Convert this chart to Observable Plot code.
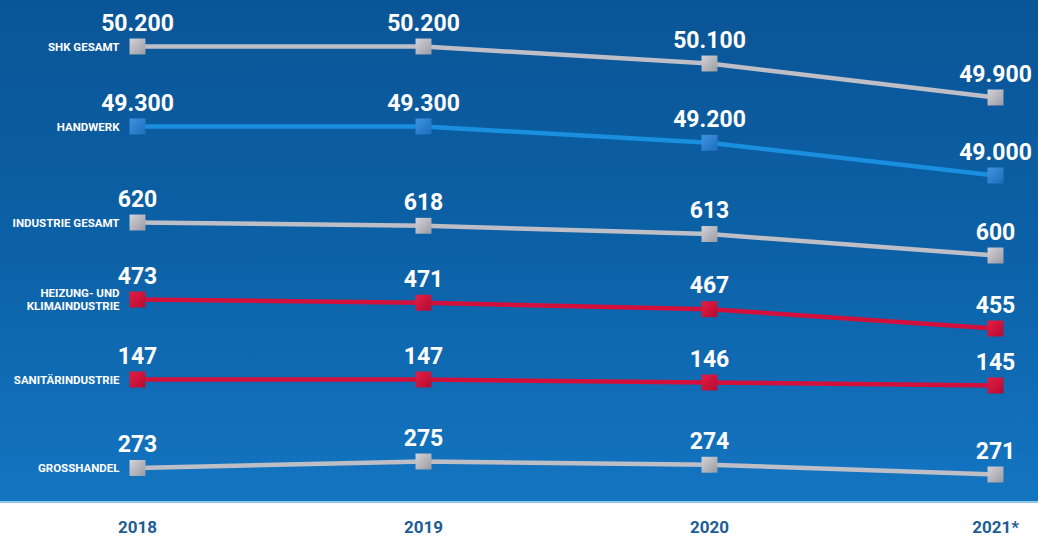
<!DOCTYPE html>
<html><head><meta charset="utf-8">
<script src="https://cdn.jsdelivr.net/npm/d3@7"></script>
<script src="https://cdn.jsdelivr.net/npm/@observablehq/plot@0.6"></script>
<style>
html,body{margin:0;padding:0;overflow:hidden;background:#fff;}
#chart{position:relative;width:1038px;height:539px;font-family:Roboto,sans-serif;}
#panel{position:absolute;left:0;top:0;width:1038px;height:503px;background:linear-gradient(to bottom,#0a5597 0%,#0c61a6 50%,#1475c1 100%);border-bottom:2px solid #8fc6ec;box-sizing:border-box}
#chart svg{position:absolute;left:0;top:0;}
</style></head><body><div id="chart"><div id="panel"></div></div>
<script>
// ---- data ----
const years = ["2018", "2019", "2020", "2021*"];
const seriesNames = ["SHK GESAMT", "HANDWERK", "INDUSTRIE GESAMT", "HEIZUNG- UND\nKLIMAINDUSTRIE", "SANITÄRINDUSTRIE", "GROSSHANDEL"];
const shkGesamt = [50200, 50200, 50100, 49900];
const handwerk = [49300, 49300, 49200, 49000];
const industrieGesamt = [620, 618, 613, 600];
const heizungKlima = [473, 471, 467, 455];
const sanitaer = [147, 147, 146, 145];
const grosshandel = [273, 275, 274, 271];
const seriesValues = [shkGesamt, handwerk, industrieGesamt, heizungKlima, sanitaer, grosshandel];

// ---- layout & style (not data) ----
const W = 1038, H = 539;
const bands = [[46, 97], [126, 175], [222, 255], [299, 328], [379, 385], [461, 474]];
const palette = {
  gray: {line: "#bdbec6", g0: "#d4d3d8", g1: "#9a9aa3"},
  blue: {line: "#1a8fe0", g0: "#3f95df", g1: "#1d6cbd"},
  red:  {line: "#d3103b", g0: "#e41d45", g1: "#b30b2f"}
};
const seriesColor = ["gray", "blue", "gray", "red", "red", "gray"];

const fmt = d3.formatLocale({decimal: ",", thousands: ".", grouping: [3], currency: ["", "€"]}).format(",d");
const chart = document.getElementById("chart");
const ns = "http://www.w3.org/2000/svg";

seriesValues.forEach((vals, i) => {
  const data = years.map((yr, j) => ({year: yr, value: vals[j]}));
  const c = palette[seriesColor[i]];
  const gid = "grad" + i;
  const defs = () => {
    const d = document.createElementNS(ns, "defs");
    d.innerHTML = `<linearGradient id="${gid}" x1="0" y1="0" x2="1" y2="1"><stop offset="0" stop-color="${c.g0}"/><stop offset="1" stop-color="${c.g1}"/></linearGradient>`;
    return d;
  };
  const p = Plot.plot({
    width: W, height: H,
    marginLeft: 137, marginRight: 43,
    marginTop: bands[i][0], marginBottom: H - bands[i][1],
    x: {type: "point", domain: years, padding: 0, axis: null},
    y: {axis: null},
    style: {background: "transparent", fontFamily: "Roboto, sans-serif", overflow: "visible"},
    marks: [
      defs,
      Plot.line(data, {x: "year", y: "value", stroke: c.line, strokeWidth: 4.5}),
      Plot.dot(data, {x: "year", y: "value", symbol: "square", r: 9, fill: `url(#${gid})`}),
      Plot.text(data, {x: "year", y: "value", text: d => fmt(d.value), fill: "white", fontSize: 23, fontWeight: "bold", lineAnchor: "bottom", dy: -16}),
      Plot.text([data[0]], {x: "year", y: "value", text: () => seriesNames[i], fill: "white", fontSize: 11.5, fontWeight: "bold", textAnchor: "end", lineAnchor: "middle", lineHeight: 1.15, dx: -18})
    ]
  });
  chart.appendChild(p);
});

// year axis
const axisPlot = Plot.plot({
  width: W, height: H,
  marginLeft: 137, marginRight: 43, marginTop: 0, marginBottom: 32,
  x: {type: "point", domain: years, padding: 0},
  style: {background: "transparent", fontFamily: "Roboto, sans-serif", overflow: "visible"},
  marks: [
    Plot.axisX({tickSize: 0, tickPadding: 13, fontSize: 17, fontWeight: "bold", fill: "#1d5c95", label: null})
  ]
});
chart.appendChild(axisPlot);
</script></body></html>
